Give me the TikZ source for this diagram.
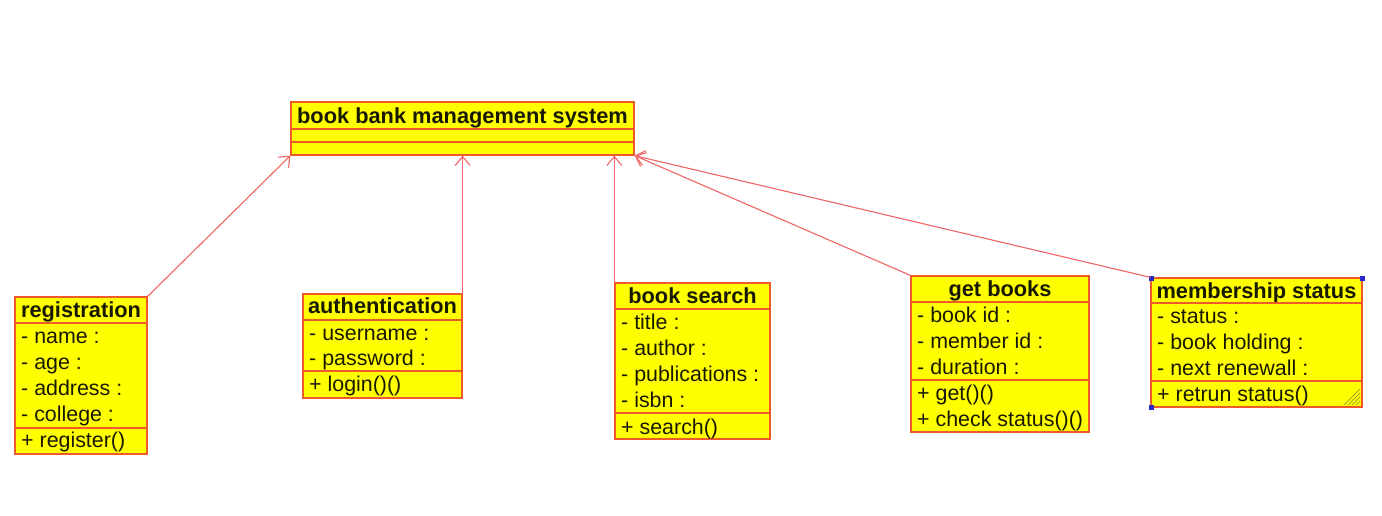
\documentclass[tikz,border=0pt]{standalone}
\usepackage{fontspec}
\setmainfont{Liberation Sans}
\usetikzlibrary{arrows.meta}
\definecolor{boxfill}{RGB}{255,255,0}
\definecolor{boxline}{RGB}{240,90,40}
\definecolor{arrline}{RGB}{240,100,100}
\definecolor{handle}{RGB}{40,40,200}
\definecolor{grip}{RGB}{170,170,40}
\definecolor{txt}{RGB}{25,25,0}
\tikzset{
  cls/.style={draw=boxline, fill=boxfill, line width=1.3pt, inner sep=0pt},
  sepline/.style={draw=boxline, line width=1.3pt},
  item/.style={anchor=west, inner sep=0pt, text=txt, font=\fontsize{21.4}{23}\selectfont, text height=19pt, text depth=4pt},
  head/.style={inner sep=0pt, text=txt, font=\fontsize{21.8}{23}\selectfont\bfseries, text height=19pt, text depth=4pt},
  gen/.style={draw=arrline, line width=1.1pt, -{Straight Barb[length=9pt,width=15pt,line width=1.1pt]}},
}
\begin{document}
\begin{tikzpicture}[x=1pt,y=-1pt]
\useasboundingbox (0,0) rectangle (1382,516);
% system
\node[cls, minimum width=343pt, minimum height=53pt] (sys) at (462.5,128.5) {};
\node[head] (sysh) at (462.5,116) {book bank management system};
\draw[sepline] (291,129) -- (634,129);
\draw[sepline] (291,142) -- (634,142);
% registration
\node[cls, minimum width=132pt, minimum height=157pt] (reg) at (81,375.5) {};
\node[head] (regh) at (81,310) {registration};
\draw[sepline] (15,323) -- (147,323);
\node[item] (reg1) at (21,336) {- name :};
\node[item] (reg2) at (21,362) {- age :};
\node[item] (reg3) at (21,388) {- address :};
\node[item] (reg4) at (21,414) {- college :};
\draw[sepline] (15,428) -- (147,428);
\node[item] (reg5) at (21,440) {+ register()};
% authentication
\node[cls, minimum width=159pt, minimum height=104pt] (auth) at (382.5,346) {};
\node[head] (authh) at (382.5,306) {authentication};
\draw[sepline] (303,320) -- (462,320);
\node[item] (auth1) at (309,333) {- username :};
\node[item] (auth2) at (309,358) {- password :};
\draw[sepline] (303,371) -- (462,371);
\node[item] (auth3) at (309,384) {+ login()()};
% book search
\node[cls, minimum width=155pt, minimum height=156pt] (bs) at (692.5,361) {};
\node[head] (bsh) at (692.5,296) {book search};
\draw[sepline] (615,309) -- (770,309);
\node[item] (bs1) at (621,322) {- title :};
\node[item] (bs2) at (621,348) {- author :};
\node[item] (bs3) at (621,374) {- publications :};
\node[item] (bs4) at (621,400) {- isbn :};
\draw[sepline] (615,413) -- (770,413);
\node[item] (bs5) at (621,427) {+ search()};
% get books
\node[cls, minimum width=178pt, minimum height=156pt] (gb) at (1000,354) {};
\node[head] (gbh) at (1000,289) {get books};
\draw[sepline] (911,302) -- (1089,302);
\node[item] (gb1) at (917,315) {- book id :};
\node[item] (gb2) at (917,341) {- member id :};
\node[item] (gb3) at (917,367) {- duration :};
\draw[sepline] (911,380) -- (1089,380);
\node[item] (gb4) at (917,393) {+ get()()};
\node[item] (gb5) at (917,419) {+ check status()()};
% membership status
\node[cls, minimum width=211pt, minimum height=129pt] (ms) at (1256.5,342.5) {};
\node[head] (msh) at (1256.5,291) {membership status};
\draw[sepline] (1151,303) -- (1362,303);
\node[item] (ms1) at (1157,316) {- status :};
\node[item] (ms2) at (1157,342) {- book holding :};
\node[item] (ms3) at (1157,368) {- next renewall :};
\draw[sepline] (1151,381) -- (1362,381);
\node[item] (ms4) at (1157,394) {+ retrun status()};
% grip
\foreach \d in {4,8,12,16}
  \draw[grip, line width=0.8pt] (1360-\d,405) -- (1360,405-\d);
% selection handles
\fill[handle] (1148.5,275.5) rectangle (1153.5,280.5);
\fill[handle] (1359.5,275.5) rectangle (1364.5,280.5);
\fill[handle] (1148.5,404.5) rectangle (1153.5,409.5);
% generalisation arrows
\draw[gen] (reg.north east) -- (sys.south west);
\draw[gen] (auth.north east) -- (auth.north east |- sys.south);
\draw[gen] (bs.north west) -- (bs.north west |- sys.south);
\draw[gen] (gb.north west) -- (sys.south east);
\draw[gen] (ms.north west) -- (sys.south east);
\end{tikzpicture}
\end{document}
